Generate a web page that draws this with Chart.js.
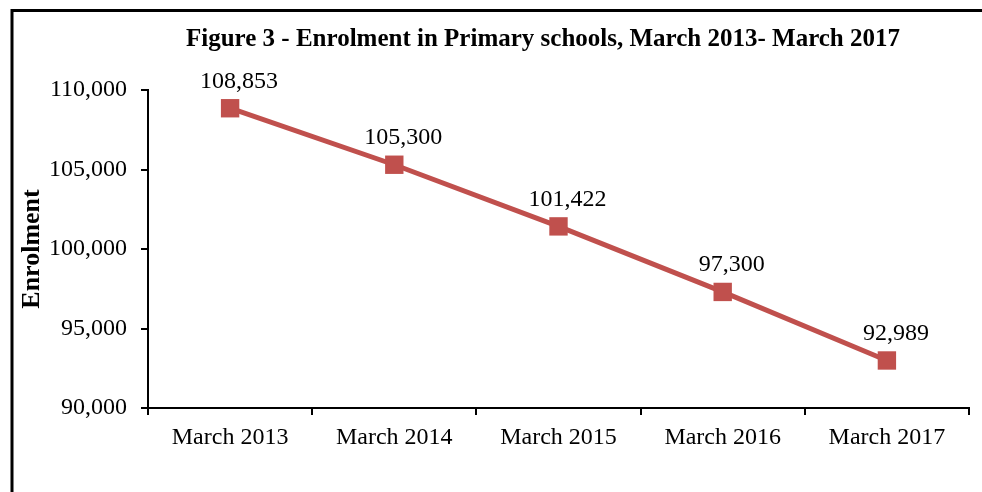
<!DOCTYPE html>
<html>
<head>
<meta charset="utf-8">
<script src="https://cdn.jsdelivr.net/npm/chart.js@4"></script>
<style>
  html, body { margin: 0; padding: 0; background: #fff; }
  #box { width: 982px; height: 492px; }
</style>
</head>
<body>
<div id="box"><canvas id="myChart"></canvas></div>
<script>
// data
const years = ["March 2013", "March 2014", "March 2015", "March 2016", "March 2017"];
const enrolment = [108853, 105300, 101422, 97300, 92989];
const yMin = 90000;
const yMax = 110000;
const yStep = 5000;
const chartTitle = "Figure 3 - Enrolment in Primary schools, March 2013- March 2017";
const yTitle = "Enrolment";

const serif = "'Liberation Serif', 'Times New Roman', serif";

// title, frame and value labels
const extras = {
  id: "extras",
  afterDatasetsDraw(chart) {
    const ctx = chart.ctx;
    const meta = chart.getDatasetMeta(0);
    ctx.save();
    ctx.fillStyle = "#000";
    ctx.font = "24px " + serif;
    ctx.textAlign = "center";
    ctx.textBaseline = "middle";
    meta.data.forEach((pt, i) => {
      ctx.fillText(enrolment[i].toLocaleString("en-US"), pt.x + 9, pt.y - 27);
    });
    ctx.restore();
  },
  afterDraw(chart) {
    const ctx = chart.ctx;
    ctx.save();
    ctx.fillStyle = "#000";
    ctx.font = "bold 25px " + serif;
    ctx.textAlign = "center";
    ctx.textBaseline = "middle";
    ctx.fillText(chartTitle, 543, 40);
    ctx.strokeStyle = "#000";
    ctx.lineWidth = 3;
    ctx.strokeRect(12, 10.5, 1000, 600);
    ctx.restore();
  }
};

const ctx = document.getElementById("myChart").getContext("2d");
new Chart(ctx, {
  type: "line",
  data: {
    labels: years,
    datasets: [{
      data: enrolment,
      borderColor: "#C0504D",
      backgroundColor: "#C0504D",
      borderWidth: 5,
      pointStyle: "rect",
      pointRadius: 13,
      pointBorderWidth: 0,
      tension: 0,
      fill: false
    }]
  },
  options: {
    responsive: true,
    maintainAspectRatio: false,
    animation: false,
    layout: { padding: { top: 90, right: 8, bottom: 0, left: 0 } },
    plugins: {
      legend: { display: false },
      tooltip: { enabled: false }
    },
    scales: {
      x: {
        offset: true,
        grid: { offset: true, drawOnChartArea: false, color: "#000", tickLength: 7, lineWidth: 2 },
        border: { color: "#000", width: 2 },
        ticks: { color: "#000", font: { family: serif, size: 24 }, padding: 8, maxRotation: 0 },
        afterFit(scale) { scale.height = 84; }
      },
      y: {
        min: yMin,
        max: yMax,
        grid: { drawOnChartArea: false, color: "#000", tickLength: 7, lineWidth: 2 },
        border: { color: "#000", width: 2 },
        ticks: {
          stepSize: yStep,
          color: "#000",
          font: { family: serif, size: 24 },
          padding: 14,
          callback: (v) => v.toLocaleString("en-US")
        },
        title: {
          display: true,
          text: yTitle,
          color: "#000",
          font: { family: serif, size: 26, weight: "bold" },
          padding: { top: 17, bottom: 0 }
        },
        afterFit(scale) { scale.width = 148; }
      }
    }
  },
  plugins: [extras]
});
</script>
</body>
</html>
